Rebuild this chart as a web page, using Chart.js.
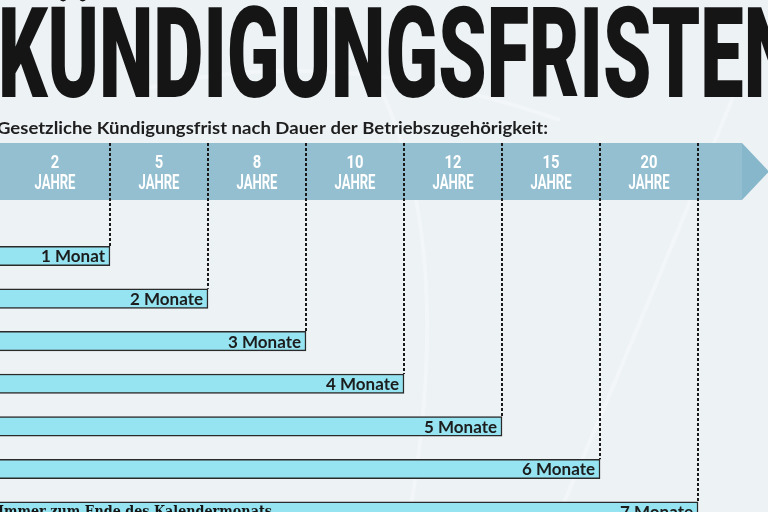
<!DOCTYPE html>
<html>
<head>
<meta charset="utf-8">
<script src="https://cdn.jsdelivr.net/npm/chart.js@4.4.1/dist/chart.umd.min.js"></script>
<style>
  html, body { margin: 0; padding: 0; background: #edf2f5; }
  #wrap { width: 768px; height: 512px; position: relative; overflow: hidden; }
  canvas { display: block; }
</style>
</head>
<body>
<div id="wrap"><canvas id="c" width="768" height="512"></canvas></div>
<script>
// ---- data ----
const months = [1, 2, 3, 4, 5, 6, 7];
const monthLabels = ['1 Monat', '2 Monate', '3 Monate', '4 Monate', '5 Monate', '6 Monate', '7 Monate'];
const yearTicks = ['2', '5', '8', '10', '12', '15', '20'];
const yearUnit = 'JAHRE';
const titleText = 'KÜNDIGUNGSFRISTEN';
const subtitleText = 'Gesetzliche Kündigungsfrist nach Dauer der Betriebszugehörigkeit:';
const footnoteText = 'Immer zum Ende des Kalendermonats';

// ---- layout constants ----
const X_MIN = -0.122, X_MAX = 7.714;
const Y_MIN = -5.01, Y_MAX = 7.01;
const BAR_H = 19.5;
const BANNER_TOP = 143, BANNER_BOTTOM = 200, BANNER_RECT_END = 742, BANNER_TIP = 769;

function drawScaledText(ctx, text, x, y, font, targetW, align) {
  ctx.save();
  ctx.font = font;
  const w = ctx.measureText(text).width;
  const sx = targetW / w;
  ctx.translate(x, y);
  ctx.scale(sx, 1);
  ctx.textAlign = align || 'left';
  ctx.fillText(text, 0, 0);
  ctx.restore();
}

const decor = {
  id: 'decor',
  beforeDraw(chart) {
    const ctx = chart.ctx;
    const xs = chart.scales.x, ys = chart.scales.y;
    ctx.save();
    // background
    ctx.fillStyle = '#edf2f5';
    ctx.fillRect(0, 0, chart.width, chart.height);
    // faint watermark shapes
    ctx.strokeStyle = 'rgba(255,255,255,0.3)';
    ctx.lineWidth = 4;
    ctx.beginPath();
    ctx.moveTo(320, 0); ctx.quadraticCurveTo(470, 160, 410, 512);
    ctx.moveTo(140, 90); ctx.quadraticCurveTo(330, 40, 560, 120);
    ctx.moveTo(560, 512); ctx.quadraticCurveTo(650, 300, 740, 80);
    ctx.stroke();

    // title
    ctx.fillStyle = '#151515';
    ctx.textBaseline = 'alphabetic';
    drawScaledText(ctx, titleText, -2, 97, '900 127px Roboto', 800, 'left');
    // subtitle
    ctx.fillStyle = '#1e1e1e';
    drawScaledText(ctx, subtitleText, -3, 134, 'bold 17.5px Lato', 551, 'left');

    // banner arrow
    ctx.fillStyle = '#93bfd1';
    ctx.fillRect(0, BANNER_TOP, BANNER_RECT_END, BANNER_BOTTOM - BANNER_TOP);
    ctx.fillStyle = '#86b7cb';
    ctx.beginPath();
    ctx.moveTo(BANNER_RECT_END, BANNER_TOP);
    ctx.lineTo(BANNER_TIP, (BANNER_TOP + BANNER_BOTTOM) / 2);
    ctx.lineTo(BANNER_RECT_END, BANNER_BOTTOM);
    ctx.closePath();
    ctx.fill();

    // year labels between gridlines
    ctx.fillStyle = '#ffffff';
    let prev = chart.chartArea.left;
    months.forEach((m, i) => {
      const px = xs.getPixelForValue(m);
      const cx = (prev + px) / 2;
      drawScaledText(ctx, yearTicks[i], cx, 168, 'bold 19px Roboto', yearTicks[i].length > 1 ? 17 : 8.5, 'center');
      drawScaledText(ctx, yearUnit, cx, 189, 'bold 19.5px Roboto', 41, 'center');
      prev = px;
    });

    // dotted gridlines from banner top to bar top
    ctx.strokeStyle = '#1a1a1a';
    ctx.lineWidth = 2;
    ctx.setLineDash([3, 2]);
    months.forEach((m, i) => {
      const px = Math.round(xs.getPixelForValue(m));
      const barTop = ys.getPixelForValue(i + 1) - BAR_H / 2;
      ctx.beginPath();
      ctx.moveTo(px, BANNER_TOP);
      ctx.lineTo(px, barTop);
      ctx.stroke();
    });
    ctx.restore();
  },
  afterDatasetsDraw(chart) {
    const ctx = chart.ctx;
    const meta = chart.getDatasetMeta(0);
    ctx.save();
    ctx.fillStyle = '#1c1c1c';
    ctx.textBaseline = 'middle';
    ctx.textAlign = 'right';
    ctx.font = 'bold 17px Lato';
    meta.data.forEach((bar, i) => {
      ctx.fillText(monthLabels[i], bar.x - 5, bar.y + 1);
    });
    // footnote on last bar
    const last = meta.data[meta.data.length - 1];
    ctx.fillStyle = '#151515';
    drawScaledText(ctx, footnoteText, -2, last.y + 1, 'bold 15px "DejaVu Serif"', 274, 'left');
    ctx.restore();
  }
};

new Chart(document.getElementById('c'), {
  type: 'bar',
  data: {
    datasets: [{
      data: months.map((m, i) => ({ x: m, y: i + 1 })),
      base: X_MIN - 1,
      backgroundColor: '#96e4f1',
      borderColor: '#2a2a2a',
      borderWidth: 1.5,
      borderSkipped: 'start',
      barThickness: BAR_H
    }]
  },
  options: {
    indexAxis: 'y',
    responsive: false,
    animation: false,
    devicePixelRatio: 1,
    layout: { padding: 0 },
    plugins: { legend: { display: false }, tooltip: { enabled: false }, title: { display: false } },
    scales: {
      x: { type: 'linear', min: X_MIN, max: X_MAX, display: false, offset: false },
      y: { type: 'linear', min: Y_MIN, max: Y_MAX, reverse: true, display: false, offset: false }
    }
  },
  plugins: [decor]
});
</script>
</body>
</html>
